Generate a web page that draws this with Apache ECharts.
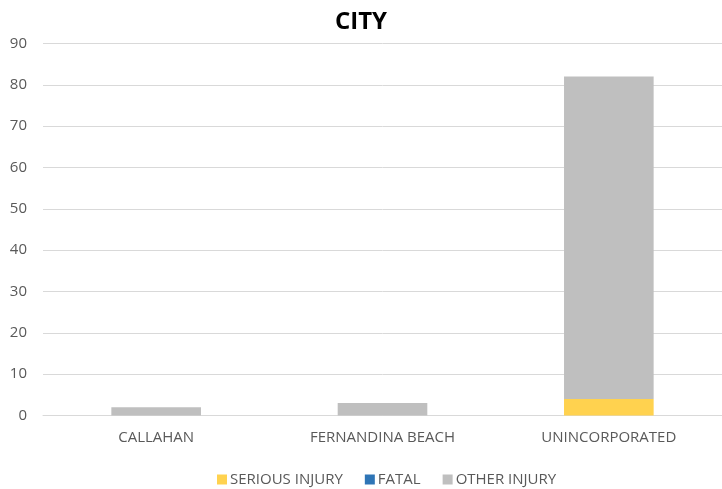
<!DOCTYPE html>
<html><head><meta charset="utf-8">
<script src="https://cdn.jsdelivr.net/npm/echarts@6/dist/echarts.min.js"></script>
<style>html,body{margin:0;padding:0;background:#fff}#c{width:722px;height:489px}</style>
</head><body><div id="c"></div>
<script>
const categories = ['CALLAHAN', 'FERNANDINA BEACH', 'UNINCORPORATED'];
const seriousInjury = [0, 0, 4];
const fatal = [0, 0, 0];
const otherInjury = [2, 3, 78];
const yTicks = {min: 0, max: 90, interval: 10};

const font = '"Open Sans", "Liberation Sans", sans-serif';
const chart = echarts.init(document.getElementById('c'));
const mk = (name, data, color) => ({
  name, type: 'bar', stack: 'total', data, barWidth: '39.6%',
  itemStyle: {color}, emphasis: {disabled: true}
});
chart.setOption({
  animation: false,
  title: {text: 'CITY', left: 'center', top: 5,
    textStyle: {fontFamily: font, fontSize: 24, fontWeight: 'bold', color: '#000'}},
  grid: {left: 43, right: -3, top: 43.5, bottom: 73.5},
  legend: {top: 467, left: 212, itemWidth: 10, itemHeight: 10, itemGap: 22,
    icon: 'rect',
    textStyle: {fontFamily: font, fontSize: 15, color: '#595959', padding: [0,0,0,-2]},
    data: ['SERIOUS INJURY', 'FATAL', 'OTHER INJURY']},
  xAxis: {type: 'category', data: categories,
    axisLine: {lineStyle: {color: '#d9d9d9', width: 1}},
    axisTick: {show: false},
    axisLabel: {fontFamily: font, fontSize: 15, color: '#595959', margin: 15}},
  yAxis: {type: 'value', min: yTicks.min, max: yTicks.max, interval: yTicks.interval,
    axisLine: {show: false}, axisTick: {show: false},
    splitLine: {lineStyle: {color: '#d9d9d9', width: 1}},
    axisLabel: {fontFamily: font, fontSize: 15, color: '#595959', margin: 16}},
  series: [
    mk('SERIOUS INJURY', seriousInjury, '#FFD24F'),
    mk('FATAL', fatal, '#2E75B6'),
    mk('OTHER INJURY', otherInjury, '#BFBFBF')
  ]
});
</script></body></html>
